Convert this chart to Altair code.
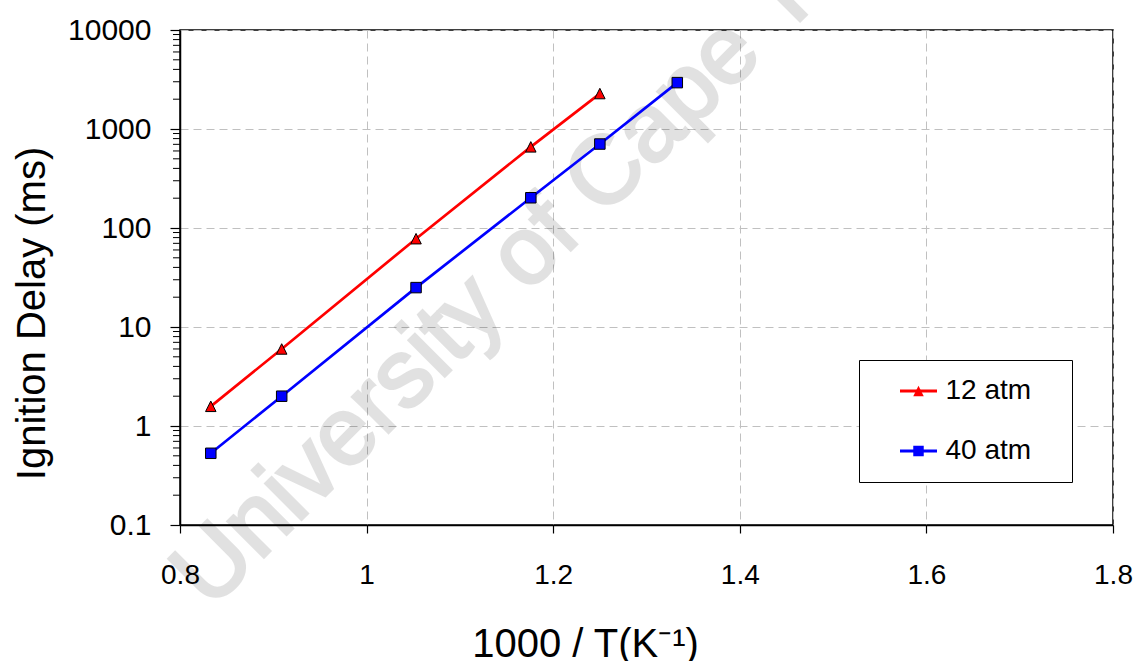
import altair as alt
import pandas as pd

# ---- data ----
inv_T_12 = [0.833, 0.909, 1.053, 1.176, 1.250]
delay_12 = [1.58, 6.0, 78, 660, 2280]
inv_T_40 = [0.833, 0.909, 1.053, 1.176, 1.250, 1.333]
delay_40 = [0.53, 2.0, 25, 202, 705, 2940]

series_names = ["12 atm", "40 atm"]
series_colors = ["#FF0000", "#0000FF"]
series_shapes = ["M0,-1L1,1L-1,1Z", "square"]

x_ticks = [0.8, 1.0, 1.2, 1.4, 1.6, 1.8]
y_ticks = [0.1, 1, 10, 100, 1000, 10000]
minor_mult = [2, 3, 4, 5, 6, 7, 8, 9]
minor_decades = [0.1, 1, 10, 100, 1000]

watermark = ["University of Cape Town"]

FONT = "Liberation Sans"

rows = []
for xv, yv in zip(inv_T_12, delay_12):
    rows.append({"x": xv, "y": yv, "series": series_names[0]})
for xv, yv in zip(inv_T_40, delay_40):
    rows.append({"x": xv, "y": yv, "series": series_names[1]})
df = pd.DataFrame(rows)
df["series_m"] = df["series"]

df_minor = pd.DataFrame({"y": [m * d for d in minor_decades for m in minor_mult]})
df_wm = pd.DataFrame({"t": watermark})

x_enc = alt.X(
    "x:Q",
    scale=alt.Scale(domain=[0.8, 1.8], nice=False, zero=False),
    axis=alt.Axis(
        values=x_ticks, format="~g", grid=True, gridDash=[8, 5], gridColor="#c0c0c0",
        gridWidth=1, tickSize=8, tickColor="black", tickWidth=1.2,
        domainColor="black", domainWidth=1.5,
        labelFont=FONT, labelFontSize=28, labelColor="black", labelPadding=28,
        labelFlush=False, labelOverlap=False,
        title="1000 / T(K⁻¹)", titleFont=FONT, titleFontSize=40,
        titleFontWeight="normal", titleColor="black",
        titleX=405, titleY=131, titleAlign="center", titleBaseline="alphabetic",
    ),
)
y_enc = alt.Y(
    "y:Q",
    scale=alt.Scale(type="log", domain=[0.1, 10000], nice=False),
    axis=alt.Axis(
        values=y_ticks, format="~g", grid=True, gridDash=[8, 5], gridColor="#c0c0c0",
        gridWidth=1, tickSize=10, tickColor="black", tickWidth=1.2,
        domainColor="black", domainWidth=1.5,
        labelFont=FONT, labelFontSize=30, labelColor="black", labelPadding=19,
        labelFlush=False, labelOverlap=False,
        title="Ignition Delay (ms)", titleFont=FONT, titleFontSize=40,
        titleFontWeight="normal", titleColor="black",
        titleAngle=270, titleX=-136, titleY=283, titleAlign="center",
        titleBaseline="alphabetic",
    ),
)

wm = alt.Chart(df_wm).mark_text(
    font=FONT, fontSize=96, color="black", opacity=0.115, angle=315,
    stroke="black", strokeWidth=3,
    align="center", baseline="middle",
).encode(text="t:N", x=alt.value(375), y=alt.value(195))

minor = alt.Chart(df_minor).mark_rule(color="black", strokeWidth=1).encode(
    y=y_enc, x=alt.value(-7), x2=alt.value(0)
)

lines = alt.Chart(df).mark_line(strokeWidth=2.7).encode(
    x=x_enc,
    y=y_enc,
    color=alt.Color(
        "series:N",
        scale=alt.Scale(domain=series_names, range=series_colors),
        legend=alt.Legend(
            title=None, orient="none", legendX=679, legendY=330,
            direction="vertical",
            strokeColor="black", fillColor="white", padding=11,
            symbolType="stroke", symbolSize=1369, symbolStrokeWidth=3,
            symbolOffset=28.5, clipHeight=40, rowPadding=20,
            labelFont=FONT, labelFontSize=28, labelColor="black",
            labelOffset=7, labelLimit=400,
            labelExpr="datum.label + '\u00a0\u00a0\u00a0\u2009\u200b'",
            zindex=0,
        ),
    ),
)

legend_b = dict(
    title=None, orient="none", legendX=679, legendY=330,
    direction="vertical", padding=11,
    symbolSize=110, symbolStrokeColor="black", symbolStrokeWidth=1,
    symbolOffset=34.5, clipHeight=40, rowPadding=20,
    labelFont=FONT, labelFontSize=28, labelExpr="''",
    labelOffset=7, zindex=1,
)

points = alt.Chart(df).mark_point(
    filled=True, stroke="black", strokeWidth=1, size=110, opacity=1
).encode(
    x=x_enc,
    y=y_enc,
    fill=alt.Fill(
        "series_m:N",
        scale=alt.Scale(range=series_colors),
        legend=alt.Legend(**legend_b),
    ),
    shape=alt.Shape(
        "series_m:N",
        scale=alt.Scale(range=series_shapes),
        legend=alt.Legend(**legend_b),
    ),
)

chart = alt.layer(wm, minor, lines, points).properties(
    width=933,
    height=495,
    autosize=alt.AutoSizeParams(type="none"),
    padding={"left": 180, "top": 30, "right": 25, "bottom": 136},
    background="white",
).configure_view(stroke="black", strokeWidth=1.5)

chart.save("out.html", embed_options={"renderer": "svg", "actions": False})
